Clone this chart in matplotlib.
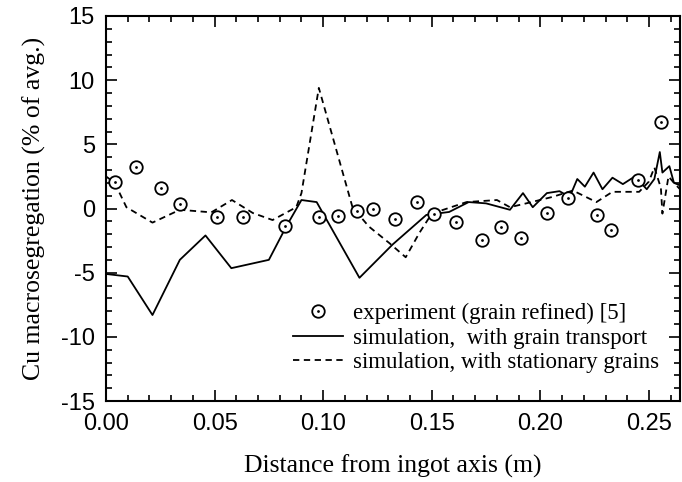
import matplotlib
matplotlib.use("Agg")
import matplotlib.pyplot as plt
from matplotlib.ticker import MultipleLocator, FormatStrFormatter
from matplotlib.legend_handler import HandlerTuple

plt.rcParams["axes.unicode_minus"] = False

# experiment (grain refined)
exp_x = [0.004, 0.0136, 0.0254, 0.034, 0.051, 0.063, 0.0826, 0.098, 0.1066,
         0.1155, 0.123, 0.133, 0.143, 0.151, 0.161, 0.173, 0.182, 0.191,
         0.203, 0.2125, 0.2262, 0.2323, 0.2448, 0.2556]
exp_y = [2.1, 3.2, 1.6, 0.35, -0.66, -0.66, -1.36, -0.66, -0.58,
         -0.2, 0.0, -0.8, 0.5, -0.43, -1.05, -2.45, -1.43, -2.3,
         -0.35, 0.8, -0.5, -1.7, 2.2, 6.75]

# simulation, with grain transport
trans_x = [0.0, 0.010, 0.0214, 0.034, 0.0458, 0.0577, 0.075, 0.083, 0.090,
           0.097, 0.1167, 0.132, 0.1475, 0.158, 0.167, 0.175, 0.186, 0.192,
           0.1965, 0.203, 0.2088, 0.2135, 0.217, 0.2205, 0.2245, 0.2286,
           0.2332, 0.238, 0.2435, 0.249, 0.2525, 0.255, 0.2562, 0.2594,
           0.2615, 0.2643]
trans_y = [-5.1, -5.3, -8.3, -4.0, -2.1, -4.65, -4.0, -1.4, 0.66,
           0.5, -5.4, -2.8, -0.5, -0.27, 0.5, 0.4, -0.1, 1.2,
           0.1, 1.2, 1.35, 0.9, 2.3, 1.7, 2.8, 1.5,
           2.4, 1.9, 2.5, 1.5, 2.3, 4.4, 2.8, 3.3,
           2.0, 1.8]

# simulation, with stationary grains
stat_x = [0.0, 0.004, 0.0094, 0.0214, 0.034, 0.0485, 0.058, 0.0676, 0.0767,
          0.0876, 0.090, 0.098, 0.1135, 0.121, 0.1305, 0.138, 0.1443, 0.150,
          0.166, 0.180, 0.186, 0.1935, 0.2055, 0.215, 0.2258, 0.2332,
          0.2455, 0.250, 0.2525, 0.2555, 0.2562, 0.259, 0.2615, 0.2643,
          0.2643]
stat_y = [2.5, 2.0, 0.1, -1.1, -0.1, -0.3, 0.66, -0.35, -0.9,
          0.1, 1.2, 9.4, 0.1, -1.4, -2.7, -3.8, -1.9, -0.4,
          0.5, 0.66, 0.1, 0.4, 0.9, 1.4, 0.5, 1.3,
          1.3, 2.1, 3.2, 1.6, -0.4, 2.5, 2.0, 1.5,
          -15.0]

labels = ["experiment (grain refined) [5]",
          "simulation,  with grain transport",
          "simulation, with stationary grains"]

serif = "Liberation Serif"
sans = "Liberation Sans"

fig = plt.figure(figsize=(6.82, 4.82), dpi=100)
ax = fig.add_axes([106 / 682, 1 - 401 / 482, 574 / 682, 385 / 482])

lw = 1.3
trans_line, = ax.plot(trans_x, trans_y, color="black", lw=lw)
stat_line, = ax.plot(stat_x, stat_y, color="black", lw=lw, ls=(0, (3.5, 2.5)))
circles, = ax.plot(exp_x, exp_y, ls="none", marker="o", ms=9, mfc="white",
                   mec="black", mew=1.3)
dots, = ax.plot(exp_x, exp_y, ls="none", marker="o", ms=2, mfc="black",
                mec="black", mew=0)

ax.set_xlim(0, 0.2643)
ax.set_ylim(-15, 15)
ax.xaxis.set_major_locator(MultipleLocator(0.05))
ax.xaxis.set_minor_locator(MultipleLocator(0.01))
ax.xaxis.set_major_formatter(FormatStrFormatter("%.2f"))
ax.yaxis.set_major_locator(MultipleLocator(5))
ax.yaxis.set_minor_locator(MultipleLocator(1))

ax.tick_params(which="both", direction="in", top=True, right=True,
               width=1.2, color="black")
ax.tick_params(which="major", length=8)
ax.tick_params(which="minor", length=4)
ax.tick_params(axis="x", which="major", pad=9)
ax.tick_params(axis="y", which="major", pad=8)
for lab in ax.get_xticklabels() + ax.get_yticklabels():
    lab.set_fontfamily(sans)
    lab.set_fontsize(17)
for sp in ax.spines.values():
    sp.set_linewidth(1.5)

ax.set_xlabel("Distance from ingot axis (m)", family=serif, fontsize=18.5,
              labelpad=14)
ax.set_ylabel("Cu macrosegregation (% of avg.)", family=serif, fontsize=18.5,
              labelpad=11)

ax.legend([(circles, dots), trans_line, stat_line], labels,
          handler_map={tuple: HandlerTuple(ndivide=1)},
          loc="upper left", bbox_to_anchor=(293 / 682, 1 - 303 / 482),
          bbox_transform=fig.transFigure, frameon=False,
          prop={"family": serif, "size": 16.5}, handlelength=2.2,
          handletextpad=0.4, labelspacing=0.15, borderpad=0,
          borderaxespad=0)

fig.savefig("out.png", dpi=100)
